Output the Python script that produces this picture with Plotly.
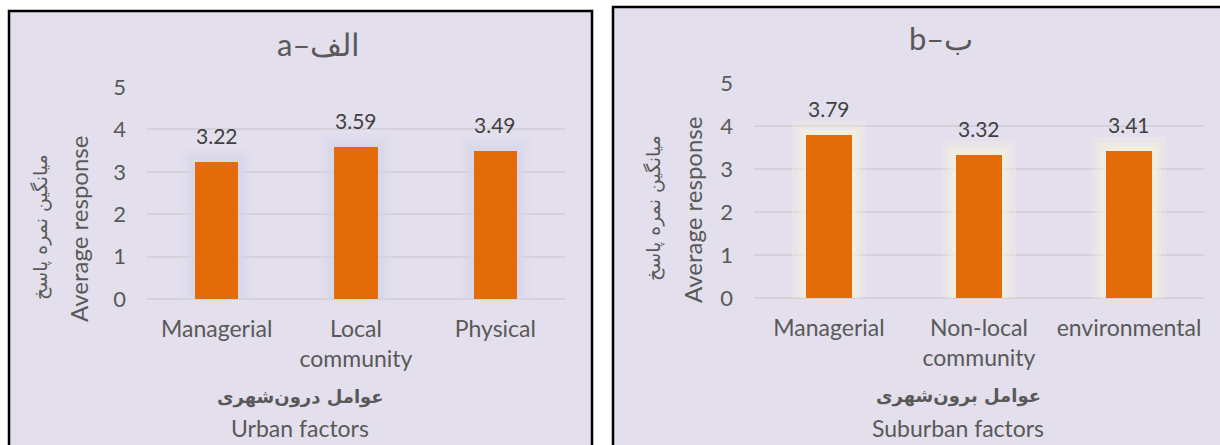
import plotly.graph_objects as go

# ---- data ----
urban_categories = ["Managerial", "Local<br>community", "Physical"]
urban_values = [3.22, 3.59, 3.49]
suburban_categories = ["Managerial", "Non-local<br>community", "environmental"]
suburban_values = [3.79, 3.32, 3.41]
y_ticks = [0, 1, 2, 3, 4, 5]

title_a = "a\u2013\u0627\u0644\u0641"
title_b = "b\u2013\u0628"
ytitle_en = "Average response"
ytitle_fa = "میانگین نمره پاسخ"
xtitle_fa_a = "عوامل درون\u200cشهری"
xtitle_fa_b = "عوامل برون\u200cشهری"
xtitle_en_a = "Urban factors"
xtitle_en_b = "Suburban factors"

W, H = 1220, 445
BAR = "#E36C09"
BG = "#E4DFEC"
LAT = "Lato"
FA = "DejaVu Sans"

fig = go.Figure()

def add_panel(cats, vals, xa, ya, glow_rgb, px_per_cat, px_per_unit):
    # soft glow layers behind bars
    for pad, alpha in [(14, 0.25), (9, 0.35), (5, 0.5)]:
        fig.add_trace(go.Bar(
            x=cats, y=[v + pad / px_per_unit for v in vals],
            width=0.31 + 2 * pad / px_per_cat,
            marker=dict(color=f"rgba({glow_rgb},{alpha})", line=dict(width=0)),
            xaxis=xa, yaxis=ya, hoverinfo="skip", showlegend=False))
    fig.add_trace(go.Bar(
        x=cats, y=vals, width=0.31,
        marker=dict(color=BAR, line=dict(width=0)),
        xaxis=xa, yaxis=ya, showlegend=False))
    for c, v in zip(cats, vals):
        fig.add_annotation(x=c, y=v, xref=xa, yref=ya, text=f"{v:.2f}",
                           showarrow=False, yanchor="bottom", yshift=12,
                           font=dict(family=LAT, size=21, color="#404040"))

add_panel(urban_categories, urban_values, "x", "y", "214,214,234", 139.5, 42.4)
add_panel(suburban_categories, suburban_values, "x2", "y2", "244,242,222", 150, 43)

ytick_font = dict(family=LAT, size=22, color="#595959")
xtick_font = dict(family=LAT, size=23, color="#595959")
grid = dict(showgrid=True, gridcolor="#D4D1DA", gridwidth=2,
            zeroline=True, zerolinecolor="#D4D1DA", zerolinewidth=2)

fig.update_layout(
    width=W, height=H,
    margin=dict(l=0, r=0, t=0, b=0, autoexpand=False),
    paper_bgcolor="white", plot_bgcolor="rgba(0,0,0,0)",
    barmode="overlay", bargap=0,
    xaxis=dict(domain=[147 / W, 565 / W], anchor="y", type="category", automargin=False,
               showgrid=False, showline=False, ticks="", ticklabelstandoff=14,
               tickfont=xtick_font),
    yaxis=dict(domain=[1 - 299 / H, 1 - 87 / H], anchor="x", range=[0, 5], automargin=False,
               tickvals=y_ticks, showline=False, ticks="", ticklabelstandoff=20,
               tickfont=ytick_font, **grid),
    xaxis2=dict(domain=[754 / W, 1204 / W], anchor="y2", type="category", automargin=False,
                showgrid=False, showline=False, ticks="", ticklabelstandoff=14,
                tickfont=xtick_font),
    yaxis2=dict(domain=[1 - 298 / H, 1 - 83 / H], anchor="x2", range=[0, 5], automargin=False,
                tickvals=y_ticks, showline=False, ticks="", ticklabelstandoff=20,
                tickfont=ytick_font, **grid),
)

# frames
fig.add_shape(type="rect", xref="paper", yref="paper", layer="below",
              x0=9 / W, x1=592 / W, y0=-0.05, y1=1 - 11 / H,
              fillcolor=BG, line=dict(color="black", width=2.5))
fig.add_shape(type="rect", xref="paper", yref="paper", layer="below",
              x0=613 / W, x1=1.05, y0=-0.05, y1=1 - 7 / H,
              fillcolor=BG, line=dict(color="black", width=2.5))

def ann(text, x, y, size, family, color="#595959", angle=0, bold=False):
    if bold:
        text = f"<b>{text}</b>"
    fig.add_annotation(text=text, x=x / W, y=1 - y / H, xref="paper", yref="paper",
                       showarrow=False, textangle=angle, xanchor="center", yanchor="middle",
                       font=dict(family=family, size=size, color=color))

# titles
ann(title_a, 318, 44, 31, LAT)
ann(title_b, 941, 38, 31, LAT)
# y titles
ann(ytitle_en, 79, 229, 24, LAT, angle=-90)
ann(ytitle_fa, 40, 227, 19, FA, angle=-90)
ann(ytitle_en, 692, 210, 24, LAT, angle=-90)
ann(ytitle_fa, 653, 208, 19, FA, angle=-90)
# x titles
ann(xtitle_fa_a, 300, 397, 18, FA, bold=True)
ann(xtitle_en_a, 300, 428, 23, LAT)
ann(xtitle_fa_b, 958, 396, 18, FA, bold=True)
ann(xtitle_en_b, 958, 428, 23, LAT)

fig.write_html("out.html")
